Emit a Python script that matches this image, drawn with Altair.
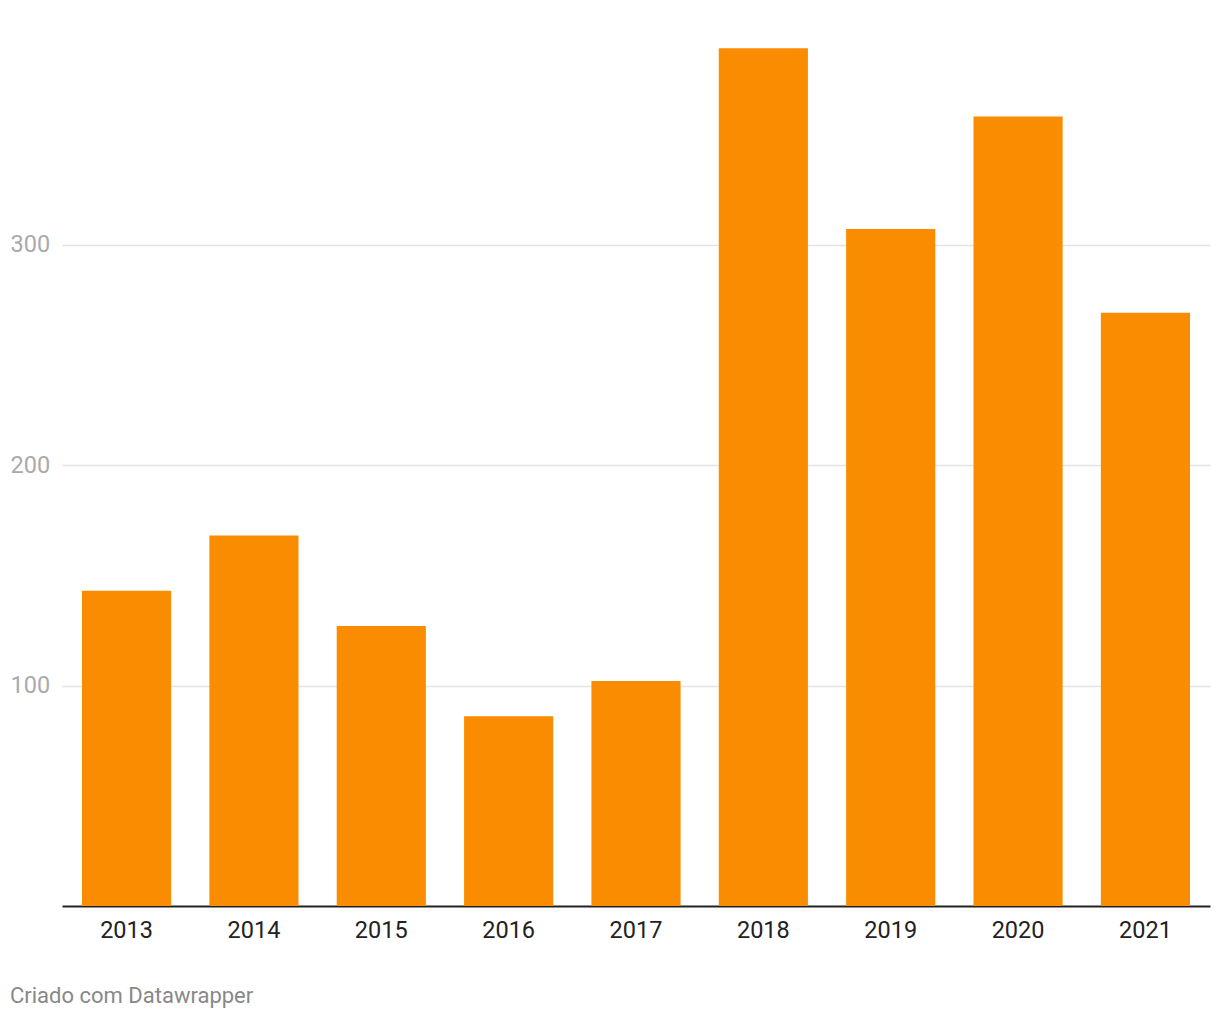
import altair as alt
import pandas as pd

years = ["2013", "2014", "2015", "2016", "2017", "2018", "2019", "2020", "2021"]
values = [143, 168, 127, 86, 102, 389, 307, 358, 269]

df = pd.DataFrame({"ano": years, "valor": values})

chart = alt.Chart(df).mark_bar(color="#F98C00").encode(
    x=alt.X("ano:N", sort=years, title=None,
            scale=alt.Scale(paddingInner=0.3, paddingOuter=0.157),
            axis=alt.Axis(labelAngle=0, labelFont="Roboto", labelFontSize=23.5,
                          labelColor="#222222", labelPadding=12, ticks=False,
                          domainColor="#222222", domainWidth=2, grid=False)),
    y=alt.Y("valor:Q", title=None,
            scale=alt.Scale(domain=[0, 400], nice=False),
            axis=alt.Axis(values=[100, 200, 300], labelFont="Roboto", labelFontSize=23.5,
                          labelColor="#aaaaaa", labelAlign="left", labelPadding=52,
                          ticks=False, domain=False, gridColor="#e3e3e3", gridWidth=1.5)),
).properties(
    width=1148,
    height=882,
    autosize=alt.AutoSizeParams(type="none"),
    padding={"left": 54, "top": 16, "right": 2, "bottom": 104},
    title=alt.TitleParams("Criado com Datawrapper", orient="bottom", anchor="start",
                          font="Roboto", fontSize=22, fontWeight="normal",
                          color="#888888", offset=44),
).configure_view(stroke=None)

chart.save("out.html", embed_options={"renderer": "svg", "actions": False})
